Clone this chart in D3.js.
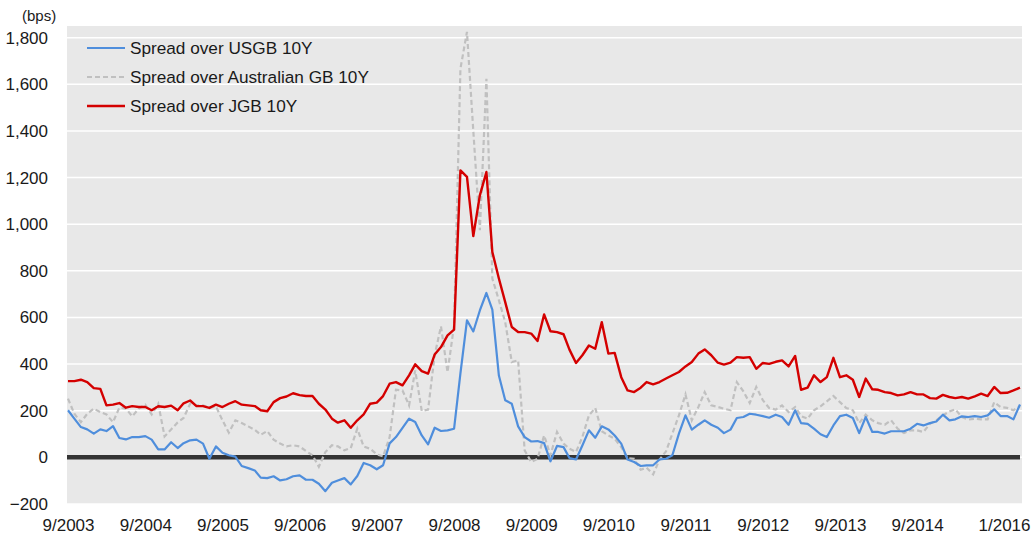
<!DOCTYPE html>
<html lang="en">
<head>
<meta charset="UTF-8">
<title>Spreads</title>
<style>
  body { margin: 0; background: #fff; }
  text { font-family: "Liberation Sans", Arial, sans-serif; fill: #1a1a1a; }
</style>
</head>
<body>
<script src="https://cdn.jsdelivr.net/npm/d3@7"></script>
<script>
// monthly values, 9/2003 .. 1/2016 (bps)
var usgb = [202,166,130,120,102,120,113,134,83,77,87,87,91,76,34,34,65,40,61,73,
  76,59,-6,47,20,9,3,-37,-46,-56,-87,-89,-81,-99,-94,-81,-77,-96,-96,-113,
  -145,-109,-99,-89,-116,-80,-24,-34,-51,-34,60,87,127,166,152,94,56,127,113,116,
  123,360,588,540,630,705,634,351,245,230,133,87,68,70,61,-17,49,44,-3,-9,
  51,116,84,133,120,94,59,-9,-20,-37,-34,-34,-9,-6,9,102,180,119,140,159,
  140,127,104,119,169,173,187,183,177,170,183,173,140,202,147,144,123,99,87,137,
  177,183,169,104,173,109,109,102,112,112,112,123,144,137,147,154,183,159,163,176,
  173,177,173,180,206,177,177,163,227];
var ausgb = [252,187,151,187,209,194,184,151,213,209,176,209,226,184,230,90,120,150,169,230,
  223,223,212,219,159,106,159,147,133,118,97,113,76,59,47,52,47,27,9,-40,
  23,52,47,30,40,123,47,37,13,4,87,290,287,223,373,199,205,438,562,365,
  566,1667,1825,1400,974,1624,767,674,580,409,416,30,-20,-6,94,9,109,59,37,23,
  87,180,212,112,94,80,44,-3,-6,-53,-44,-73,-10,26,102,180,270,159,216,280,
  223,216,209,202,323,283,233,302,245,212,205,223,194,216,177,166,202,219,240,263,
  237,212,202,147,183,159,147,140,159,123,104,116,116,109,144,159,180,197,206,173,
  162,166,163,163,237,216,212,202,219];
var jgb = [327,327,333,323,297,294,223,226,233,213,220,216,216,202,219,216,222,202,232,244,
  220,220,212,226,216,230,241,226,223,220,202,198,237,254,261,275,267,263,263,230,
  205,166,149,159,127,159,184,230,235,263,316,323,309,352,399,370,359,441,473,523,
  548,1231,1203,949,1124,1224,881,767,666,559,538,537,531,499,613,541,537,528,462,405,
  438,480,466,580,445,448,344,287,280,299,323,313,323,338,352,366,390,409,445,463,
  438,406,398,406,430,427,430,380,405,401,410,416,390,435,290,299,352,323,344,427,
  344,352,333,259,338,292,290,280,276,266,270,280,270,270,254,252,268,259,254,259,
  252,262,273,263,302,276,277,287,299];

var seriesNames = ["Spread over USGB 10Y", "Spread over Australian GB 10Y", "Spread over JGB 10Y"];
var yTicks = [-200, 0, 200, 400, 600, 800, 1000, 1200, 1400, 1600, 1800];
var xTickLabels = ["9/2003","9/2004","9/2005","9/2006","9/2007","9/2008","9/2009",
  "9/2010","9/2011","9/2012","9/2013","9/2014","1/2016"];

var W = 1031, H = 534;
var start = new Date(2003, 8, 1);
var months = d3.range(usgb.length).map(function (i) { return d3.timeMonth.offset(start, i); });
var xTickDates = xTickLabels.map(function (s) {
  var p = s.split("/");
  return new Date(+p[1], +p[0] - 1, 1);
});

var svg = d3.select("body").append("svg").attr("width", W).attr("height", H);

var x = d3.scaleTime().domain([months[0], months[months.length - 1]]).range([68, 1020]);
var y = d3.scaleLinear().domain([-200, 1800]).range([504, 37.7]);

// plot background
svg.append("rect")
  .attr("x", 67).attr("y", y(1850))
  .attr("width", 1022 - 67).attr("height", y(-200) - y(1850))
  .attr("fill", "#e8e8e8");

// gridlines
svg.append("g").selectAll("line").data(yTicks).enter().append("line")
  .attr("x1", 67).attr("x2", 1022)
  .attr("y1", function (d) { return y(d); }).attr("y2", function (d) { return y(d); })
  .attr("stroke", "#fff").attr("stroke-width", 1.5);

// y axis labels
var yAxis = svg.append("g").attr("transform", "translate(50,0)")
  .call(d3.axisLeft(y).tickValues(yTicks).tickFormat(d3.format(",")).tickSize(0).tickPadding(2));
yAxis.select(".domain").remove();
yAxis.selectAll("text").style("font-size", "17px").style("font-family", "'Liberation Sans', Arial, sans-serif").attr("fill", "#1a1a1a");

svg.append("text").attr("x", 22).attr("y", 21).style("font-size", "15px").text("(bps)");

// x axis labels
var xAxis = svg.append("g").attr("transform", "translate(0,517)")
  .call(d3.axisBottom(x).tickValues(xTickDates)
    .tickFormat(function (d, i) { return xTickLabels[i]; }).tickSize(0).tickPadding(2));
xAxis.select(".domain").remove();
xAxis.selectAll("text").style("font-size", "17px").style("font-family", "'Liberation Sans', Arial, sans-serif").attr("fill", "#1a1a1a");
xAxis.selectAll(".tick").filter(function (d, i) { return i === xTickLabels.length - 1; })
  .select("text").attr("text-anchor", "end").attr("x", 1030 - x(xTickDates[xTickDates.length - 1]));

// zero line
svg.append("line")
  .attr("x1", 67).attr("x2", 1020).attr("y1", y(0)).attr("y2", y(0))
  .attr("stroke", "#333").attr("stroke-width", 4.5);

var line = d3.line()
  .x(function (d, i) { return x(months[i]); })
  .y(function (d) { return y(d); });

var styles = [
  { data: usgb, color: "#4f8edc", width: 2.2, dash: null },
  { data: ausgb, color: "#c0c0c0", width: 2.2, dash: "5,3" },
  { data: jgb, color: "#d40000", width: 2.4, dash: null }
];

svg.append("path").datum(ausgb).attr("d", line).attr("fill", "none")
  .attr("stroke", styles[1].color).attr("stroke-width", styles[1].width).attr("stroke-dasharray", styles[1].dash);
svg.append("path").datum(usgb).attr("d", line).attr("fill", "none")
  .attr("stroke", styles[0].color).attr("stroke-width", styles[0].width).attr("stroke-linejoin", "round");
svg.append("path").datum(jgb).attr("d", line).attr("fill", "none")
  .attr("stroke", styles[2].color).attr("stroke-width", styles[2].width).attr("stroke-linejoin", "round");

// legend
var legend = svg.append("g").attr("transform", "translate(87,48)");
styles.forEach(function (s, i) {
  var g = legend.append("g").attr("transform", "translate(0," + (i * 29) + ")");
  g.append("line").attr("x1", 0).attr("x2", 38).attr("y1", 0).attr("y2", 0)
    .attr("stroke", s.color).attr("stroke-width", s.width).attr("stroke-dasharray", s.dash);
  g.append("text").attr("x", 43).attr("y", 0).attr("dy", "0.35em")
    .style("font-size", "17.2px").text(seriesNames[i]);
});
</script>
</body>
</html>
